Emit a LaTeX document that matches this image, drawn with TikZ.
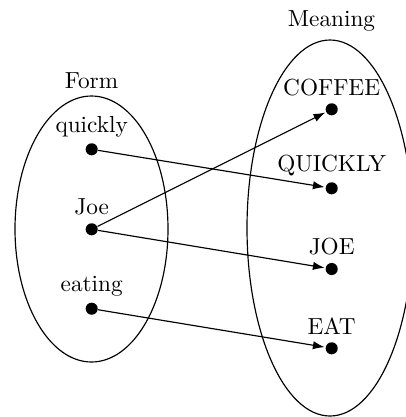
\documentclass[tikz,border=0pt]{standalone}
\usetikzlibrary{arrows.meta}
\begin{document}
\begin{tikzpicture}[x=0.43pt,y=-0.43pt,
  dot/.style={circle,fill=black,inner sep=0pt,minimum size=5.2pt},
  lab/.style={anchor=base,inner sep=0pt},
  map/.style={line width=0.5pt,-{Latex[length=5pt,width=3.6pt]},shorten >=0.3pt},
  set/.style={line width=0.5pt}]
\useasboundingbox (0,0) rectangle (406,417);
\clip (0,0) rectangle (406,417);
\draw[set] (91.5,229) ellipse [x radius=76.5, y radius=133];
\draw[set] (330,228) ellipse [x radius=83, y radius=188];
\node[lab] (form) at (91.5,88.3) {Form};
\node[lab] (meaning) at (331.5,26.7) {Meaning};
% form dots
\node[dot] (q) at (91.7,149.3) {};
\node[dot] (j) at (91.7,229.3) {};
\node[dot] (e) at (91.7,308.7) {};
\node[lab] (ql) at (91.7,132) {quickly};
\node[lab] (jl) at (91.7,214.3) {Joe};
\node[lab] (el) at (91.7,291) {eating};
% meaning dots
\node[dot] (C) at (331.7,109.3) {};
\node[dot] (Q) at (331.7,188.3) {};
\node[dot] (J) at (331.7,269) {};
\node[dot] (E) at (331.7,348.3) {};
\node[lab] (Cl) at (331.7,95) {COFFEE};
\node[lab] (Ql) at (331.7,171) {QUICKLY};
\node[lab] (Jl) at (331.7,254.3) {JOE};
\node[lab] (El) at (331.7,334.3) {EAT};
% mappings
\draw[map] (q) -- (Q);
\draw[map] (j) -- (C);
\draw[map] (j) -- (J);
\draw[map] (e) -- (E);
\end{tikzpicture}
\end{document}
